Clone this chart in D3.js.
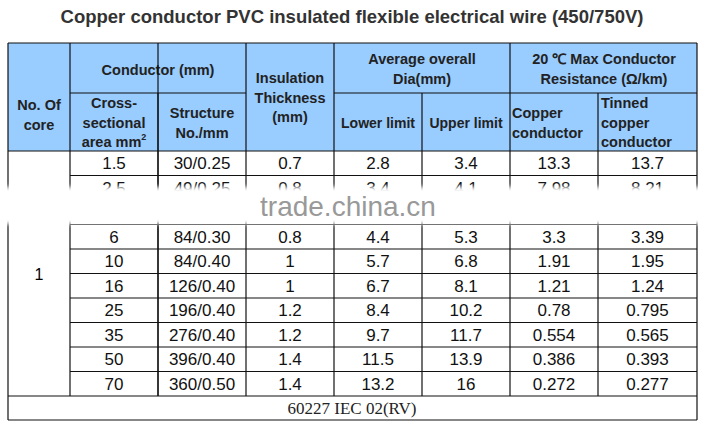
<!DOCTYPE html><html><head><meta charset="utf-8">
<script src="https://cdn.jsdelivr.net/npm/d3@7"></script>
<style>body{margin:0;background:#fff}</style></head><body>
<svg id="c" width="705" height="429"></svg>
<script>
const title = "Copper conductor PVC insulated flexible electrical wire (450/750V)";
const areas = ["1.5","2.5","4","6","10","16","25","35","50","70"];
const structures = ["30/0.25","49/0.25","56/0.30","84/0.30","84/0.40","126/0.40","196/0.40","276/0.40","396/0.40","360/0.50"];
const insulation = ["0.7","0.8","0.8","0.8","1","1","1.2","1.2","1.4","1.4"];
const lowerLimit = ["2.8","3.4","3.6","4.4","5.7","6.7","8.4","9.7","11.5","13.2"];
const upperLimit = ["3.4","4.1","4.8","5.3","6.8","8.1","10.2","11.7","13.9","16"];
const copperRes = ["13.3","7.98","4.61","3.3","1.91","1.21","0.78","0.554","0.386","0.272"];
const tinnedRes = ["13.7","8.21","4.70","3.39","1.95","1.24","0.795","0.565","0.393","0.277"];
const footer = "60227 IEC 02(RV)";
const coreLabel = "1";

const svg = d3.select("#c");
const colEdges = [8,70,158,246,334,422,510,598,697];
const yTop=43, ySub=93, yHead=151, yBody=396, yFoot=420;
const y = d3.scaleBand().domain(d3.range(areas.length)).range([yHead,yBody]);
const cols = [areas,structures,insulation,lowerLimit,upperLimit,copperRes,tinnedRes];
const blue="#99ccff", line="#111";
const hf="'Liberation Sans', Arial, sans-serif";
const bf="'Liberation Sans Narrow','Liberation Sans',sans-serif";

svg.append("text").attr("x",352).attr("y",23).attr("text-anchor","middle")
  .attr("font-family",hf).attr("font-weight","bold").attr("font-size",18.5).attr("fill","#333").text(title);

svg.append("rect").attr("x",colEdges[0]).attr("y",yTop).attr("width",colEdges[8]-colEdges[0]).attr("height",yHead-yTop).attr("fill",blue);

cols.forEach((arr,ci)=>{
  const x0=colEdges[ci+1], x1=colEdges[ci+2];
  svg.selectAll(null).data(arr).enter().append("text")
   .attr("x",(x0+x1)/2).attr("y",(d,i)=>y(i)+y.bandwidth()/2+6)
   .attr("text-anchor","middle").attr("font-family",bf).attr("font-size",17).attr("fill","#111").text(d=>d);
});
svg.append("text").attr("x",39).attr("y",(yHead+yBody)/2+6).attr("text-anchor","middle")
  .attr("font-family",bf).attr("font-size",16).text(coreLabel);
svg.append("text").attr("x",352).attr("y",yFoot-6).attr("text-anchor","middle")
  .attr("font-family","'Liberation Serif',serif").attr("font-size",17).attr("fill","#222").text(footer);

function ht(x,yy,lines,anchor,size){
  const t=svg.append("text").attr("font-family",hf).attr("font-weight","bold").attr("font-size",size||14.5).attr("fill","#222").attr("text-anchor",anchor||"middle");
  lines.forEach((l,i)=>t.append("tspan").attr("x",x).attr("y",yy+i*19.5).text(l));
  return t;
}
ht(39,110,["No. Of","core"]);
ht(158,75,["Conductor (mm)"]);
ht(290,83,["Insulation","Thickness","(mm)"]);
ht(422,64,["Average overall","Dia(mm)"]);
ht(604,64,["20 ℃  Max Conductor","Resistance (Ω/km)"]);
ht(114,108,["Cross-","sectional"]);
const a=ht(114,147,["area mm"]); a.append("tspan").attr("dy",-7).attr("font-size",9).text("2");
ht(202,118,["Structure","No./mm"]);
ht(378,128,["Lower limit"],"middle",14);
ht(466,128,["Upper limit"],"middle",14);
ht(512,118,["Copper","conductor"],"start");
ht(601,108,["Tinned","copper","conductor"],"start");

const g=svg.append("g").attr("stroke",line).attr("stroke-width",1.2);
function L(x1,y1,x2,y2){g.append("line").attr("x1",x1).attr("y1",y1).attr("x2",x2).attr("y2",y2);}
L(8,yTop,697,yTop); L(8,yFoot,697,yFoot); L(8,yBody,697,yBody);
L(8,yTop,8,yFoot); L(697,yTop,697,yFoot);
L(8,yHead,697,yHead);
L(70,ySub,246,ySub); L(334,ySub,697,ySub);
[70,158,246,334,510].forEach(x=>L(x,yTop,x,yBody));
[158,422,598].forEach(x=>L(x,ySub,x,yBody));
d3.range(1,areas.length).forEach(i=>L(70,y(i),697,y(i)));

const defs=svg.append("defs");
defs.append("filter").attr("id","bl").attr("x","-5%").attr("y","-50%").attr("width","110%").attr("height","200%")
  .append("feGaussianBlur").attr("stdDeviation",2);
svg.append("rect").attr("x",0).attr("y",187).attr("width",705).attr("height",37).attr("fill","#fff").attr("filter","url(#bl)");
svg.append("rect").attr("x",0).attr("y",191).attr("width",705).attr("height",29).attr("fill","#fff");
svg.append("text").attr("x",348).attr("y",216).attr("text-anchor","middle").attr("font-family",bf)
 .attr("font-size",28).attr("fill","#999").text("trade.china.cn");
</script></body></html>
